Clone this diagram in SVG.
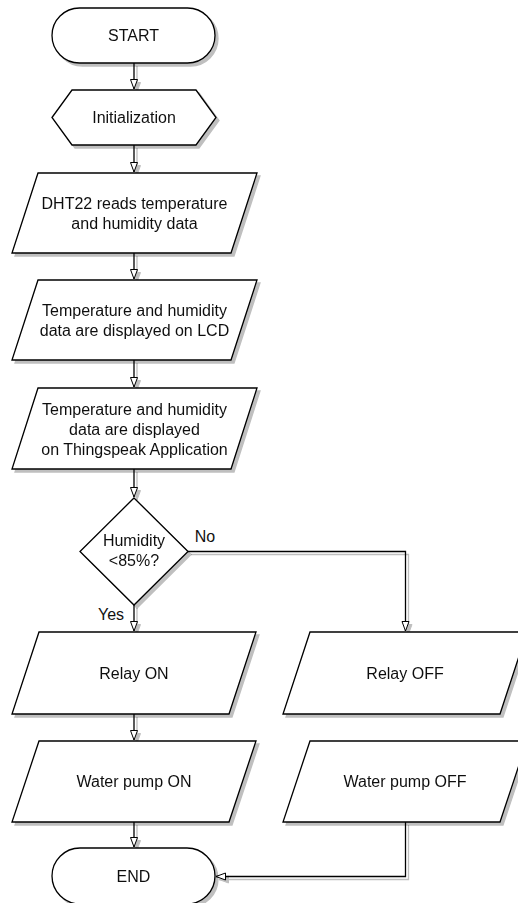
<svg xmlns="http://www.w3.org/2000/svg" width="518" height="903" viewBox="0 0 518 903">
<defs>
<filter id="sh" x="-10%" y="-10%" width="130%" height="130%">
<feOffset in="SourceAlpha" dx="3" dy="3" result="o"/>
<feFlood flood-color="#000" flood-opacity="0.25"/>
<feComposite in2="o" operator="in" result="s"/>
<feMerge><feMergeNode in="s"/><feMergeNode in="SourceGraphic"/></feMerge>
</filter>
<marker id="arr" markerUnits="userSpaceOnUse" markerWidth="12" markerHeight="12" viewBox="0 0 12 12" refX="11" refY="6" orient="auto">
<path d="M1.5,2.5 L11,6 L1.5,9.5 Z" fill="#fff" stroke="#000" stroke-width="1"/>
</marker>
</defs>
<style>
.n{fill:#fff;stroke:#000;stroke-width:1.3}
.t{font-family:"Liberation Sans",Arial,sans-serif;font-size:16px;fill:#111;text-anchor:middle}
.c{fill:none;stroke:#000;stroke-width:1.3}
</style>
<rect width="518" height="903" fill="#fff"/>
<g id="connectors" filter="url(#sh)">
<path class="c" d="M134,63 V89" marker-end="url(#arr)"/>
<path class="c" d="M134,145 V172" marker-end="url(#arr)"/>
<path class="c" d="M134,253 V279" marker-end="url(#arr)"/>
<path class="c" d="M134,360 V387" marker-end="url(#arr)"/>
<path class="c" d="M134,469 V497" marker-end="url(#arr)"/>
<path class="c" d="M134,605 V631" marker-end="url(#arr)"/>
<path class="c" d="M134,714 V740" marker-end="url(#arr)"/>
<path class="c" d="M134,822 V847" marker-end="url(#arr)"/>
<path class="c" d="M188,551.5 H405.5 V631" marker-end="url(#arr)"/>
<path class="c" d="M405.5,822 V876.5 H216" marker-end="url(#arr)"/>
</g>
<g id="start" filter="url(#sh)">
<rect class="n" x="52" y="8" width="163" height="55" rx="27.5"/>
<text class="t" x="133.5" y="41">START</text>
</g>
<g id="init" filter="url(#sh)">
<polygon class="n" points="52,117.5 72,90 196,90 216,117.5 196,145 72,145"/>
<text class="t" x="134" y="123">Initialization</text>
</g>
<g id="dht" filter="url(#sh)">
<polygon class="n" points="38,173 257,173 231,253 12,253"/>
<text class="t" x="134.5" y="208.5">DHT22 reads temperature</text>
<text class="t" x="134.5" y="228.5">and humidity data</text>
</g>
<g id="lcd" filter="url(#sh)">
<polygon class="n" points="38,280 257,280 231,360 12,360"/>
<text class="t" x="134.5" y="315.5">Temperature and humidity</text>
<text class="t" x="134.5" y="335.5">data are displayed on LCD</text>
</g>
<g id="thingspeak" filter="url(#sh)">
<polygon class="n" points="38,388 257,388 231,469 12,469"/>
<text class="t" x="134.5" y="414.5">Temperature and humidity</text>
<text class="t" x="134.5" y="434.5">data are displayed</text>
<text class="t" x="134.5" y="454.5">on Thingspeak Application</text>
</g>
<g id="decision" filter="url(#sh)">
<polygon class="n" points="134,498 188,551.5 134,605 80,551.5"/>
<text class="t" x="134" y="546">Humidity</text>
<text class="t" x="134" y="566">&lt;85%?</text>
</g>
<text class="t" x="205" y="541.5">No</text>
<text class="t" x="111" y="620">Yes</text>
<g id="relayon" filter="url(#sh)">
<polygon class="n" points="39,632 256,632 229,714 12,714"/>
<text class="t" x="134" y="678.5">Relay ON</text>
</g>
<g id="pumpon" filter="url(#sh)">
<polygon class="n" points="39,741 256,741 229,822 12,822"/>
<text class="t" x="134" y="787">Water pump ON</text>
</g>
<g id="relayoff" filter="url(#sh)">
<polygon class="n" points="310,632 527,632 500,714 283,714"/>
<text class="t" x="405" y="678.5">Relay OFF</text>
</g>
<g id="pumpoff" filter="url(#sh)">
<polygon class="n" points="310,741 527,741 500,822 283,822"/>
<text class="t" x="405" y="787">Water pump OFF</text>
</g>
<g id="end" filter="url(#sh)">
<rect class="n" x="52" y="848" width="163" height="56" rx="28"/>
<text class="t" x="133.5" y="881.5">END</text>
</g>
</svg>
